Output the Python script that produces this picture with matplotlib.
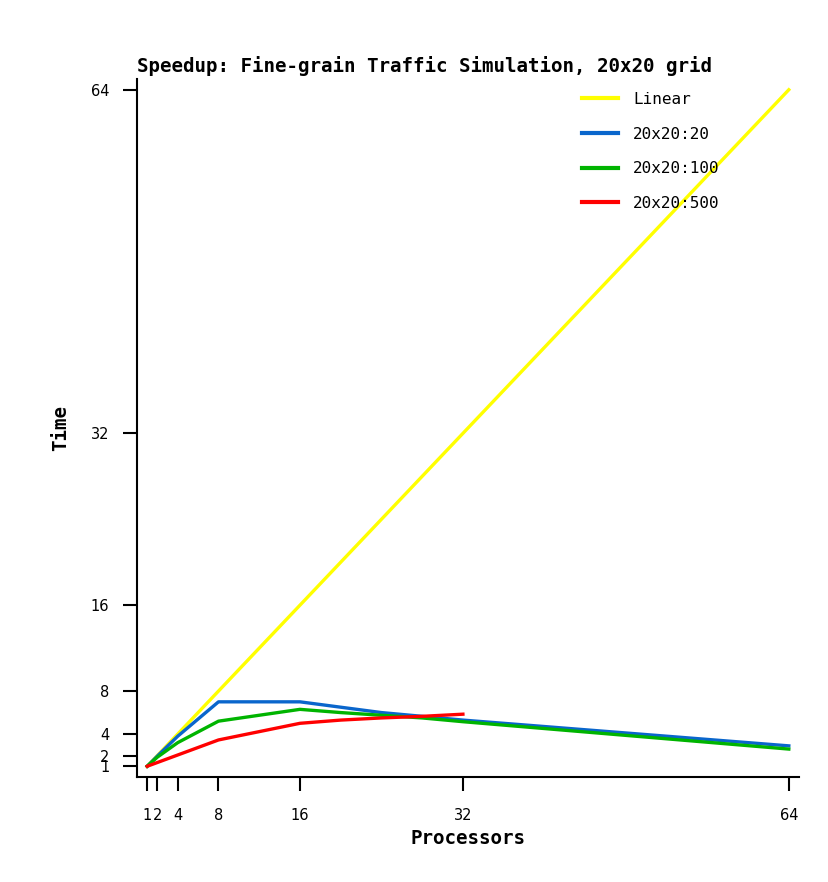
import matplotlib
matplotlib.use("Agg")
import matplotlib.pyplot as plt

# processors / speedup
procs_linear = [1, 2, 4, 8, 16, 32, 64]
speed_linear = [1, 2, 4, 8, 16, 32, 64]

procs_20 = [1, 2, 4, 8, 16, 20, 24, 28, 32, 64]
speed_20 = [1.0, 1.95, 3.8, 7.0, 7.0, 6.5, 6.0, 5.65, 5.3, 2.9]

procs_100 = [1, 2, 4, 8, 16, 20, 24, 28, 32, 64]
speed_100 = [1.0, 1.85, 3.2, 5.2, 6.3, 6.0, 5.75, 5.5, 5.15, 2.6]

procs_500 = [1, 2, 4, 8, 16, 20, 24, 28, 32]
speed_500 = [1.0, 1.35, 2.05, 3.45, 5.0, 5.3, 5.5, 5.65, 5.85]

xticks = [1, 2, 4, 8, 16, 32, 64]
yticks = [1, 2, 4, 8, 16, 32, 64]

mono = "DejaVu Sans Mono"

fig = plt.figure(figsize=(8.29, 8.82), dpi=100)
ax = fig.add_axes([137/829, 1-777/882, (799-137)/829, (777-79)/882])

lw = 2.4
ax.plot(procs_linear, speed_linear, color="#ffff00", lw=lw, label="Linear")
ax.plot(procs_20, speed_20, color="#0a66cc", lw=lw, label="20x20:20")
ax.plot(procs_100, speed_100, color="#00b400", lw=lw, label="20x20:100")
ax.plot(procs_500, speed_500, color="#ff0000", lw=lw, label="20x20:500")

ax.set_xlim(0, 65)
ax.set_ylim(0, 65)
ax.set_xticks(xticks)
ax.set_yticks(yticks)
ax.set_xticklabels([str(t) for t in xticks], fontsize=10.5)
ax.set_yticklabels([str(t) for t in yticks], fontsize=10.5)

for s in ["top", "right"]:
    ax.spines[s].set_visible(False)
for s in ["left", "bottom"]:
    ax.spines[s].set_linewidth(1.5)

ax.tick_params(axis="x", length=10, width=1.5, pad=12)
ax.tick_params(axis="y", length=10, width=1.5, pad=10)

ax.set_title("Speedup: Fine-grain Traffic Simulation, 20x20 grid",
             loc="left", fontsize=13.8, fontweight="bold", family=mono, pad=5)
ax.set_xlabel("Processors", fontsize=13.8, fontweight="bold", family=mono, labelpad=5)
ax.set_ylabel("Time", fontsize=13.8, fontweight="bold", family=mono)
ax.yaxis.set_label_coords(-0.101, 0.5)

leg = ax.legend(loc="upper left", bbox_to_anchor=(582/829, 1-92/882),
                bbox_transform=fig.transFigure, frameon=False,
                prop={"family": mono, "size": 11.5},
                handlelength=2.25, handletextpad=0.95, labelspacing=1.23,
                borderpad=0, borderaxespad=0)
for line in leg.get_lines():
    line.set_linewidth(3)

fig.savefig("out.png", dpi=100)
